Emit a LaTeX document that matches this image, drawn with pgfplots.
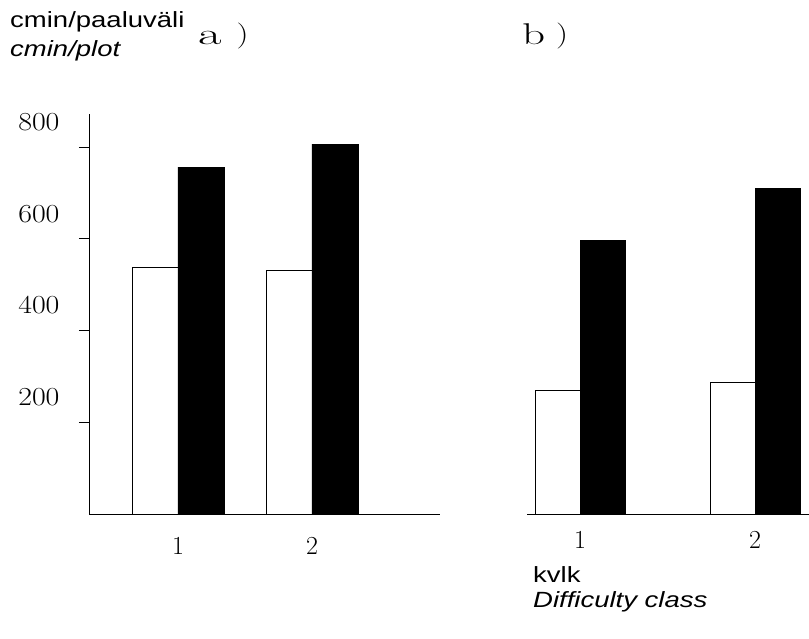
\documentclass[border=0pt]{standalone}
\usepackage{fontspec}
\usepackage{pgfplots}
\pgfplotsset{compat=1.18}
\newfontfamily\arialf{Liberation Sans}
\begin{document}
\begin{tikzpicture}
\path[use as bounding box] (0,0) rectangle (809pt,-639pt);
% panel a
\begin{axis}[
  at={(89pt,-514pt)}, anchor=south west,
  x=134pt, y=0.45875pt,
  xmin=0.336, xmax=2.955, ymin=0, ymax=873,
  axis lines=left, axis line style={-, line width=0.8pt},
  clip=false,
  /pgf/number format/assume math mode=true,
  ybar=0pt, bar width=46pt,
  xtick={1,2}, xticklabels={1,2}, xtick style={draw=none},
  ytick={200,400,600,800},
  yticklabels={\scalebox{1.15}[1]{200},\scalebox{1.15}[1]{400},\scalebox{1.15}[1]{600},\scalebox{1.15}[1]{800}},
  tick align=outside, major tick length=10pt,
  ytick style={line width=0.5pt, black},
  xticklabel style={font=\fontsize{26}{28}\selectfont, yshift=-10pt},
  yticklabel style={font=\fontsize{26}{28}\selectfont, yshift=25pt, xshift=-16pt},
]
\addplot[draw=black, fill=white, line width=0.6pt] coordinates {(1,538) (2,532)};
\addplot[draw=black, fill=black] coordinates {(1,756) (2,806)};
\end{axis}
% panel b
\begin{axis}[
  at={(527pt,-514pt)}, anchor=south west,
  x=175pt, y=0.45875pt,
  xmin=0.697, xmax=2.309, ymin=0, ymax=800,
  axis x line=bottom, axis y line=none,
  axis line style={-, line width=0.8pt},
  clip=false,
  /pgf/number format/assume math mode=true,
  ybar=0pt, bar width=45pt,
  xtick={1,2}, xticklabels={1,2}, xtick style={draw=none},
  ytick=\empty,
  xticklabel style={font=\fontsize{26}{28}\selectfont, yshift=-10pt},
]
\addplot[draw=black, fill=white, line width=0.6pt] coordinates {(1,270) (2,288)};
\addplot[draw=black, fill=black] coordinates {(1,597) (2,710)};
\end{axis}
% titles
\node[anchor=base west, inner sep=0pt] at (10pt,-28pt) {\scalebox{1.25}[1]{\arialf\fontsize{22}{26}\selectfont cmin/paaluväli}};
\node[anchor=base west, inner sep=0pt] at (10pt,-57pt) {\scalebox{1.25}[1]{\arialf\itshape\fontsize{22}{26}\selectfont cmin/plot}};
\node[anchor=base west, inner sep=0pt] at (198pt,-45pt) {\scalebox{1.7}[1]{\fontsize{30}{32}\selectfont a}\hspace{15pt}\raisebox{2pt}{\scalebox{1.3}[1]{\fontsize{26}{28}\selectfont )}}};
\node[anchor=base west, inner sep=0pt] at (522pt,-45pt) {\scalebox{1.5}[1]{\fontsize{30}{32}\selectfont b}\hspace{11pt}\raisebox{2pt}{\scalebox{1.3}[1]{\fontsize{26}{28}\selectfont )}}};
\node[anchor=base west, inner sep=0pt] at (533pt,-582pt) {\scalebox{1.25}[1]{\arialf\fontsize{22}{26}\selectfont kvlk}};
\node[anchor=base west, inner sep=0pt] at (533pt,-607pt) {\scalebox{1.25}[1]{\arialf\itshape\fontsize{22}{26}\selectfont Difficulty class}};
\end{tikzpicture}
\end{document}
